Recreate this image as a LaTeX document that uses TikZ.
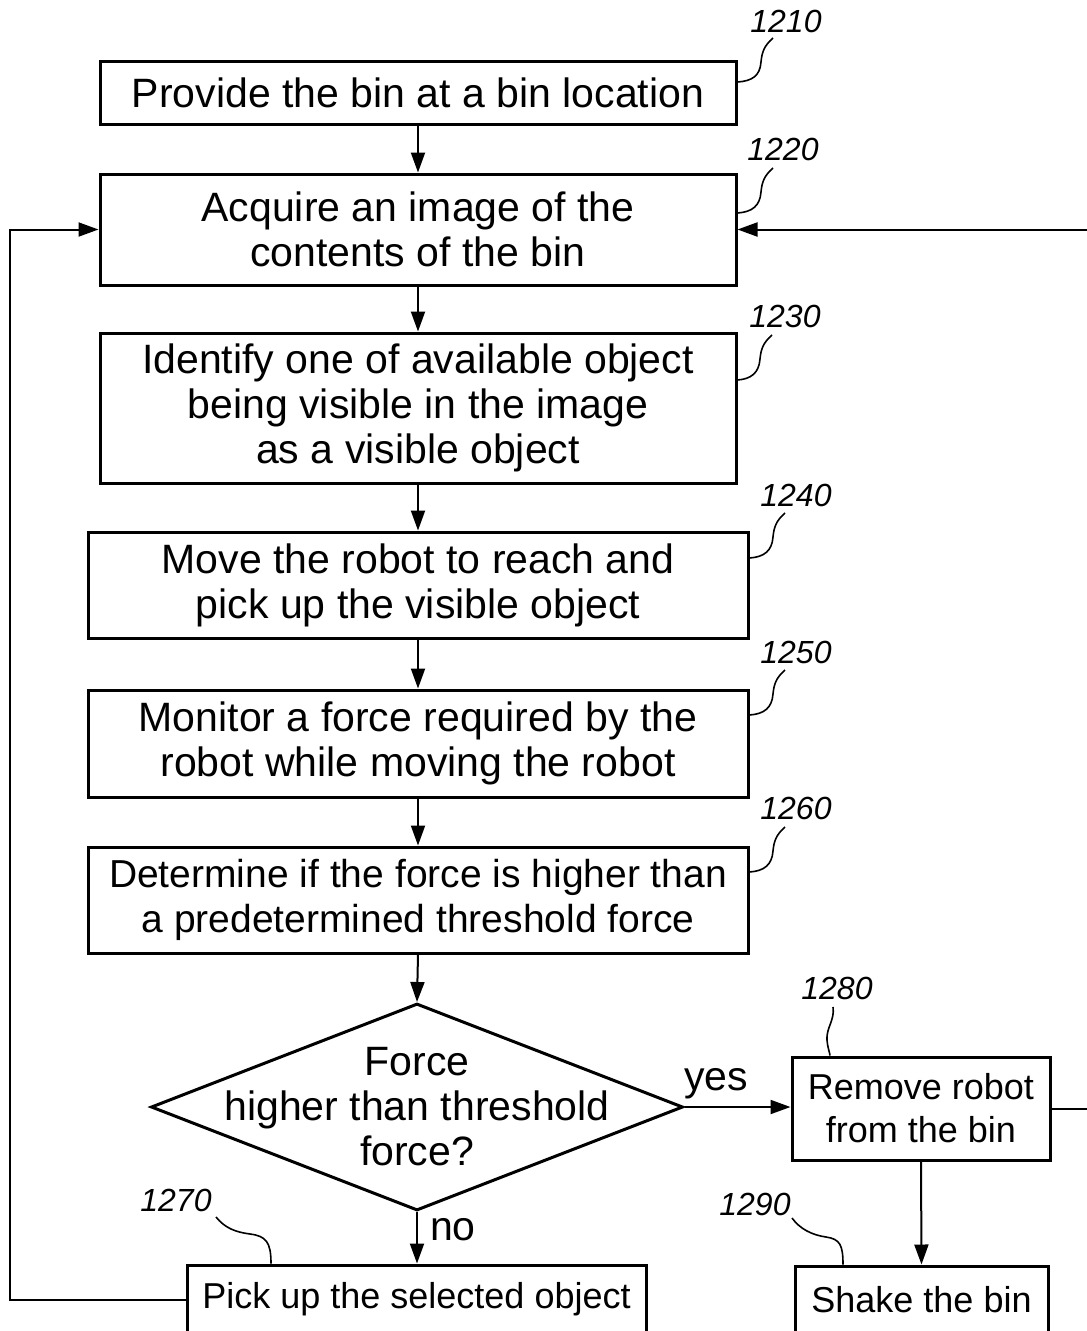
\documentclass[tikz,border=0pt]{standalone}
\usepackage{fontspec}
\setmainfont{Liberation Sans}
\usetikzlibrary{arrows.meta,shapes.geometric}
\begin{document}
\begin{tikzpicture}[x=1pt,y=-1pt,
  box/.style={draw, line width=3pt, inner sep=0pt, align=center, font=\fontsize{41}{45}\selectfont},
  sbox/.style={box, font=\fontsize{36}{43}\selectfont},
  arr/.style={line width=2pt, -{Triangle[length=20pt,width=14pt]}},
  leader/.style={line width=1.6pt},
  ref/.style={font=\fontsize{32}{32}\selectfont\itshape, inner sep=0pt},
  lbl/.style={font=\fontsize{41}{41}\selectfont, inner sep=0pt, anchor=base}]
\useasboundingbox (0,0) rectangle (1087,1331);
\clip (0,0) rectangle (1087,1331);

% boxes
\node[box, minimum width=636pt, minimum height=63pt] (b1210) at (418,92.5) {Provide the bin at a bin location};
\node[box, minimum width=636pt, minimum height=111pt] (b1220) at (418,229.5) {Acquire an image of the\\contents of the bin};
\node[box, minimum width=636pt, minimum height=150pt] (b1230) at (418,408) {Identify one of available object\\being visible in the image\\as a visible object};
\node[box, minimum width=660pt, minimum height=106pt] (b1240) at (418,585) {Move the robot to reach and\\pick up the visible object};
\node[box, minimum width=660pt, minimum height=107pt] (b1250) at (418,743.5) {Monitor a force required by the\\robot while moving the robot};
\node[box, minimum width=660pt, minimum height=106pt, font=\fontsize{39}{45}\selectfont] (b1260) at (418,900) {Determine if the force is higher than\\a predetermined threshold force};
\node[diamond, draw, line width=3pt, minimum width=532pt, minimum height=207pt, inner sep=0pt] (d) at (417,1107) {};
\node[align=center, inner sep=0pt, font=\fontsize{41}{45}\selectfont] (dtext) at (d.center) {Force\\higher than threshold\\force?};
\node[sbox, minimum width=258pt, minimum height=103pt] (b1280) at (921,1108.5) {Remove robot\\from the bin};
\node[sbox, minimum width=253pt, minimum height=68pt] (b1290) at (921.5,1300) {Shake the bin};
\node[sbox, minimum width=459pt, minimum height=69pt] (b1270) at (416.5,1299.5) {Pick up the selected object};

% reference numerals
\node[ref] (r1210) at (786,21) {1210};
\node[ref] (r1220) at (783,149) {1220};
\node[ref] (r1230) at (785,316) {1230};
\node[ref] (r1240) at (796,495) {1240};
\node[ref] (r1250) at (796,652) {1250};
\node[ref] (r1260) at (796,808) {1260};
\node[ref] (r1280) at (837,988) {1280};
\node[ref] (r1270) at (176,1200) {1270};
\node[ref] (r1290) at (755,1204) {1290};

% yes / no
\node[lbl] (yes) at (716,1090) {yes};
\node[lbl] (no) at (453,1240) {no};

% connectors
\draw[arr] (b1210.south) -- (b1220.north);
\draw[arr] (b1220.south) -- (b1230.north);
\draw[arr] (b1230.south) -- (b1240.north);
\draw[arr] (b1240.south) -- (b1250.north);
\draw[arr] (b1250.south) -- (b1260.north);
\draw[arr] (b1260.south) -- (d.north);
\draw[arr] (d.south) -- (d.south |- b1270.north);
\draw[arr] (d.east) -- (d.east -| b1280.west);
\draw[arr] (b1280.south) -- (b1290.north);
\coordinate (lx) at (10,0);
\coordinate (rx) at (1100,0);
\draw[arr] (b1270.west) -- (b1270.west -| lx) -- (lx |- b1220.west) -- (b1220.west);
\draw[arr] (b1280.east) -- (b1280.east -| rx) -- (rx |- b1220.east) -- (b1220.east);

% leaders
\draw[leader] (773,38) .. controls (764,46) and (762,52) .. (761,62) .. controls (760,76) and (752,81) .. (b1210.east |- 0,82);
\draw[leader] (773,168) .. controls (764,176) and (762,182) .. (761,192) .. controls (760,206) and (752,212) .. (b1220.east |- 0,213);
\draw[leader] (772,335) .. controls (763,343) and (761,349) .. (760,359) .. controls (759,373) and (751,379) .. (b1230.east |- 0,380);
\draw[leader] (785,513) .. controls (776,521) and (774,527) .. (773,537) .. controls (772,551) and (764,557) .. (b1240.east |- 0,558);
\draw[leader] (785,670) .. controls (776,678) and (774,684) .. (773,694) .. controls (772,708) and (764,714) .. (b1250.east |- 0,715);
\draw[leader] (785,827) .. controls (776,835) and (774,841) .. (773,851) .. controls (772,865) and (764,871) .. (b1260.east |- 0,872);
\draw[leader] (833,1007) .. controls (835,1020) and (826,1028) .. (827,1040) .. controls (828,1050) and (830,1053) .. (b1280.north -| 830,0);
\draw[leader] (216,1217) .. controls (225,1228) and (235,1232) .. (250,1234) .. controls (266,1236) and (271,1242) .. (b1270.north -| 271,0);
\draw[leader] (792,1218) .. controls (800,1229) and (812,1235) .. (826,1237) .. controls (840,1239) and (843,1245) .. (b1290.north -| 843,0);
\end{tikzpicture}
\end{document}
